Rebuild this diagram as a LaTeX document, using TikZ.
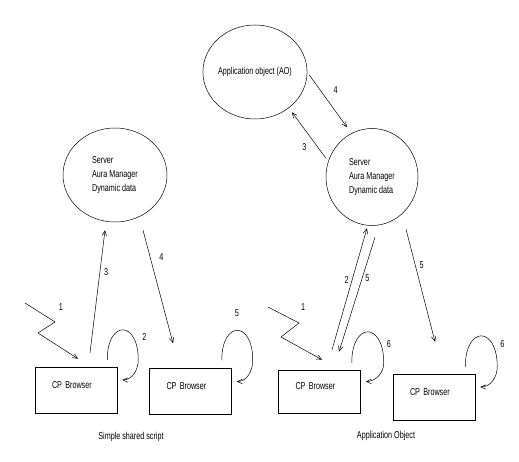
\documentclass[tikz,border=0pt]{standalone}
\usepackage{fontspec}
\setmainfont{Liberation Sans}[FakeStretch=0.72]
\usetikzlibrary{shapes.geometric,arrows.meta}

\begin{document}
\begin{tikzpicture}[x=1bp, y=-1bp, ->, >={Straight Barb[length=5bp,width=4.5bp]}, line width=0.5bp,
  font=\fontsize{10bp}{14bp}\selectfont,
  server/.style={ellipse, draw, minimum width=104bp, minimum height=94bp, inner sep=0pt, align=left},
  browser/.style={rectangle, draw, inner xsep=17bp, inner ysep=0pt, text width=48bp, minimum height=46bp, text depth=10bp, align=left},
  num/.style={inner sep=1bp}]
  \useasboundingbox (0,0) rectangle (519,462);

  \node[server] (ao) at (255,72) {Application object (AO)};
  \node[server] (srvL) at (115,175) {Server\\Aura Manager\\Dynamic data};
  \node[server, minimum width=92bp, minimum height=97bp] (srvR) at (372,177) {Server\\Aura Manager\\Dynamic data};

  \node[browser] (b1) at (76,390) {CP Browser};
  \node[browser] (b2) at (190.5,391.5) {CP Browser};
  \node[browser, minimum height=43bp] (b3) at (319.5,391.5) {CP Browser};
  \node[browser] (b4) at (434,397) {CP Browser};

  \node (capL) at (131,437) {Simple shared script};
  \node (capR) at (386,436) {Application Object};

  \coordinate (srcL) at (25,303);
  \coordinate (srcR) at (268,307);

  % simple shared script
  \draw (srcL) -- ++(30,19) node[num, shift={(6,-15)}] (n1L) {1} -- ++(-17,11) -- ([shift={(2,-8)}]b1.north);
  \draw ([shift={(14,-14)}]b1.north) -- ([shift={(-10,8)}]srvL.south) node[num, pos=.66, right=3bp] (n3L) {3};
  \draw ([shift={(28,8)}]srvL.south) -- ([shift={(-17.5,-25)}]b2.north) node[num, pos=.24, right=8bp] (n4L) {4};
  \draw ([shift={(-10,-7)}]b1.north east) to[out=90, in=90, looseness=3.3] ++(31,0) node[num, shift={(6,-23)}] (n2L) {2}
    to[out=-90, in=0] ([shift={(5,-10)}]b1.east);
  \draw ([shift={(-10,-8)}]b2.north east) to[out=90, in=90, looseness=3.3] ++(31,0) node[num, shift={(-16,-47)}] (n5L) {5}
    to[out=-90, in=0] ([shift={(5,-10)}]b2.east);

  % application object
  \draw ([shift={(2,3)}]ao.east) -- ([shift={(-25,-1)}]srvR.north) node[num, pos=.29, right=12bp] (n4R) {4};
  \draw ([shift={(0,-19)}]srvR.west) -- ([shift={(37,-7)}]ao.south) node[num, pos=.24, left=10bp] (n3R) {3};
  \draw (srcR) -- ++(31,16) node[num, shift={(4,-16)}] (n1R) {1} -- ++(-18,14) -- ([shift={(2.5,-10)}]b3.north);
  \draw ([shift={(12.5,-20)}]b3.north) -- ([shift={(-5,2.5)}]srvR.south) node[num, pos=.57, left=2bp] (n2R) {2};
  \draw ([shift={(3,11.5)}]srvR.south) -- ([shift={(19.5,-18)}]b3.north) node[num, pos=.36, right=2bp] (n5R) {5};
  \draw ([shift={(34,3.5)}]srvR.south) -- ([shift={(1,-32)}]b4.north) node[num, pos=.32, right=3bp] (n5S) {5};
  \draw ([shift={(-9,-7)}]b3.north east) to[out=90, in=90, looseness=3.3] ++(32,0) node[num, shift={(5,-19)}] (n6R) {6}
    to[out=-90, in=0] ([shift={(5,-10)}]b3.east);
  \draw ([shift={(-10,-7)}]b4.north east) to[out=90, in=90, looseness=3.3] ++(32,0) node[num, shift={(5,-23)}] (n6S) {6}
    to[out=-90, in=0] ([shift={(5,-10)}]b4.east);
\end{tikzpicture}
\end{document}
